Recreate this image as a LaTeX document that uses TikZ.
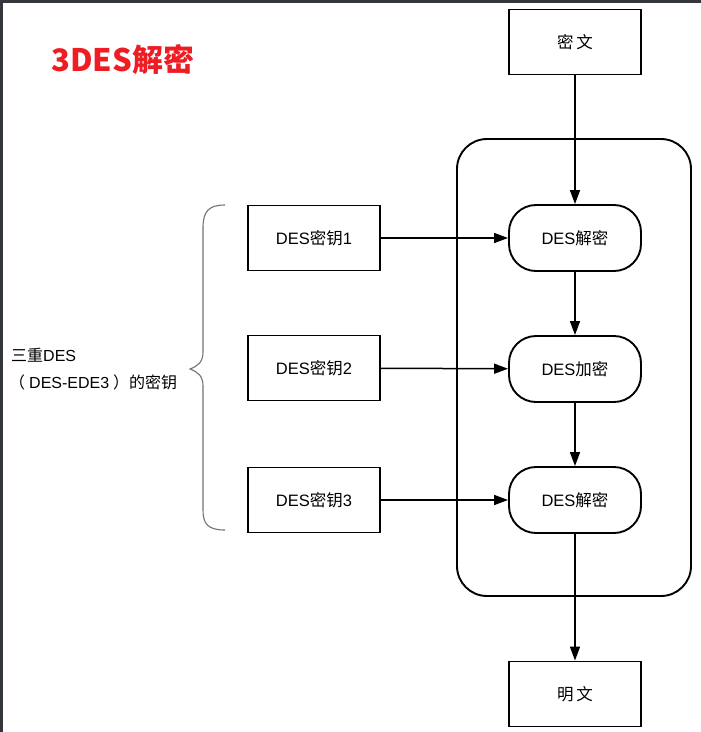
\documentclass[tikz,border=0pt]{standalone}
\usepackage{fontspec}
\setmainfont{Liberation Sans}
\newfontfamily\cjk{Noto Sans CJK SC}
\newcommand{\zh}[1]{{\cjk #1}}
\usetikzlibrary{arrows.meta}
\definecolor{framedark}{HTML}{34383C}
\definecolor{titlered}{HTML}{EE1D24}
\begin{document}
\begin{tikzpicture}[x=1pt,y=-1pt,
  plainbox/.style={draw=black,line width=1.9pt,minimum width=132pt,minimum height=65pt,inner sep=0pt,font=\fontsize{16.5}{18}\selectfont},
  stagebox/.style={plainbox,rounded corners=27pt,minimum height=66pt},
  flow/.style={line width=1.5pt,-{Triangle[length=14pt,width=10pt]}},
  bracepen/.style={draw=black!55,line width=1.1pt}]
  \useasboundingbox (0,0) rectangle (701,732);
  \fill[white] (0,0) rectangle (701,732);
  % window edge
  \fill[framedark] (0,0) rectangle (701,2.5);
  \fill[framedark] (0,0) rectangle (3,732);

  % title
  \node[anchor=west,text=titlered,inner sep=0pt,font=\cjk\bfseries\fontsize{31}{34}\selectfont] (title) at (51,60) {3DES解密};

  % container of the three stages
  \draw[line width=1.9pt,rounded corners=30pt] (457,139) rectangle (691,596);

  % input / output
  \node[plainbox] (ct) at (575,42) {\zh{密\,文}};
  \node[plainbox] (pt) at (575,694) {\zh{明\,文}};

  % stages
  \node[stagebox] (s1) at (575,238) {DES\zh{解密}};
  \node[stagebox] (s2) at (575,369) {DES\zh{加密}};
  \node[stagebox] (s3) at (575,500) {DES\zh{解密}};

  % keys
  \node[plainbox] (k1) at (314,238) {DES\zh{密钥}1};
  \node[plainbox] (k2) at (314,368) {DES\zh{密钥}2};
  \node[plainbox] (k3) at (314,500) {DES\zh{密钥}3};

  % data path
  \draw[flow] (ct) -- (s1);
  \draw[flow] (s1) -- (s2);
  \draw[flow] (s2) -- (s3);
  \draw[flow] (s3) -- (pt);

  % key inputs
  \draw[flow] (k1) -- (s1);
  \draw[flow] (k2) -- (s2);
  \draw[flow] (k3) -- (s3);

  % brace grouping the keys
  \coordinate (btop) at (225,205);
  \coordinate (btip) at (190,369);
  \coordinate (bbot) at (225,530);
  \draw[bracepen] (btop) .. controls (208,205) and (203,212) .. (203,228)
    -- (203,352) .. controls (203,362) and (198,366) .. (btip)
    .. controls (198,372) and (203,376) .. (203,386)
    -- (203,510) .. controls (203,524) and (208,530) .. (bbot);

  % brace label
  \node[anchor=west,inner sep=0pt,font=\fontsize{16}{19}\selectfont] (lbl1) at (11,355) {\zh{三重}DES};
  \node[anchor=west,inner sep=0pt,font=\fontsize{16}{19}\selectfont] (lbl2) at (9,382) {\zh{（}\hspace{4pt}DES-EDE3\hspace{4pt}\zh{）的密钥}};
\end{tikzpicture}
\end{document}
